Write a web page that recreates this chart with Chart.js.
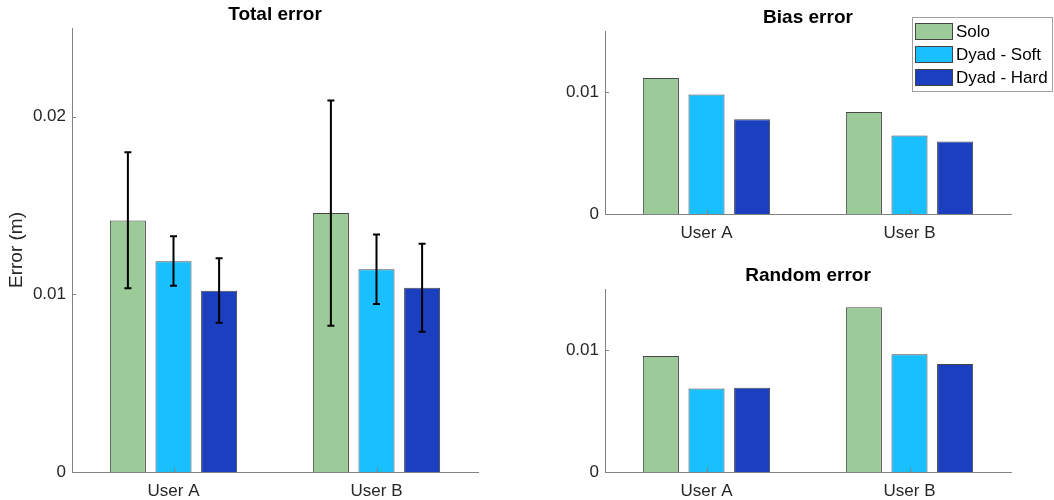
<!DOCTYPE html>
<html>
<head>
<meta charset="utf-8">
<script src="https://cdn.jsdelivr.net/npm/chart.js@4.4.1/dist/chart.umd.min.js"></script>
<style>
  html, body { margin: 0; padding: 0; background: #fff; }
  #wrap { position: relative; width: 1054px; height: 500px; }
  canvas { position: absolute; }
</style>
</head>
<body>
<div id="wrap">
  <canvas id="total-chart" width="520" height="500" style="left:0;top:0"></canvas>
  <canvas id="bias-chart" width="534" height="250" style="left:520px;top:0"></canvas>
  <canvas id="random-chart" width="534" height="250" style="left:520px;top:250px"></canvas>
</div>
<script>
// Categories and series
const users = ['User A', 'User B'];
const conditions = ['Solo', 'Dyad - Soft', 'Dyad - Hard'];
const colors = ['#9ccb99', '#1abfff', '#1a3fbf'];

// Total error (m), with error bar bounds
const totalSolo = [0.01416, 0.01459];
const totalSoft = [0.01187, 0.01142];
const totalHard = [0.01021, 0.01038];
const totalLow = [[0.01035, 0.00824], [0.01049, 0.00946], [0.00841, 0.00790]];
const totalHigh = [[0.01800, 0.02092], [0.01328, 0.01337], [0.01204, 0.01285]];

// Bias error (m)
const biasSolo = [0.01114, 0.00837];
const biasSoft = [0.00979, 0.00643];
const biasHard = [0.00777, 0.00594];

// Random error (m)
const randomSolo = [0.00951, 0.01351];
const randomSoft = [0.00685, 0.00965];
const randomHard = [0.00690, 0.00885];

// Axis ticks and limits
const totalTicks = [0, 0.01, 0.02];
const sideTicks = [0, 0.01];
const totalMax = 0.025;
const sideMax = 0.015;

const axisColor = '#828282';
const textColor = '#262626';
Chart.defaults.font.family = '"Liberation Sans", Arial, sans-serif';

// small inward ticks like MATLAB
const inwardTicks = {
  id: 'inwardTicks',
  afterDatasetsDraw(chart) {
    const ctx = chart.ctx;
    const x = chart.scales.x, y = chart.scales.y;
    ctx.save();
    ctx.strokeStyle = axisColor;
    ctx.lineWidth = 1;
    ctx.beginPath();
    for (let i = 0; i < x.ticks.length; i++) {
      const px = Math.round(x.getPixelForTick(i)) + 0.5;
      ctx.moveTo(px, y.bottom);
      ctx.lineTo(px, y.bottom - 4);
    }
    y.ticks.forEach(t => {
      const py = Math.round(y.getPixelForValue(t.value)) + 0.5;
      ctx.moveTo(x.left, py);
      ctx.lineTo(x.left + 4, py);
    });
    ctx.stroke();
    ctx.restore();
  }
};

// error bars from low/high arrays
const errorBars = {
  id: 'errorBars',
  afterDatasetsDraw(chart, args, opts) {
    if (!opts || !opts.low) return;
    const ctx = chart.ctx;
    const y = chart.scales.y;
    ctx.save();
    ctx.strokeStyle = '#000';
    ctx.lineWidth = 2;
    chart.data.datasets.forEach((ds, i) => {
      chart.getDatasetMeta(i).data.forEach((bar, j) => {
        const yl = y.getPixelForValue(opts.low[i][j]);
        const yh = y.getPixelForValue(opts.high[i][j]);
        ctx.beginPath();
        ctx.moveTo(bar.x, yl);
        ctx.lineTo(bar.x, yh);
        ctx.moveTo(bar.x - 3.5, yl);
        ctx.lineTo(bar.x + 3.5, yl);
        ctx.moveTo(bar.x - 3.5, yh);
        ctx.lineTo(bar.x + 3.5, yh);
        ctx.stroke();
      });
    });
    ctx.restore();
  }
};

// legend box drawn in the top right corner
const legendBox = {
  id: 'legendBox',
  afterDraw(chart, args, opts) {
    if (!opts || !opts.show) return;
    const ctx = chart.ctx;
    ctx.save();
    ctx.fillStyle = '#fff';
    ctx.fillRect(392, 17, 140, 74);
    ctx.strokeStyle = '#a0a0a0';
    ctx.lineWidth = 1;
    ctx.strokeRect(392.5, 17.5, 140, 74);
    ctx.font = '17px "Liberation Sans", Arial, sans-serif';
    ctx.textBaseline = 'middle';
    chart.data.datasets.forEach((ds, i) => {
      const top = 23 + i * 23;
      ctx.fillStyle = ds.backgroundColor;
      ctx.fillRect(395, top, 38, 17);
      ctx.strokeStyle = '#444';
      ctx.strokeRect(395.5, top + 0.5, 37, 16);
      ctx.fillStyle = '#000';
      ctx.fillText(ds.label, 436, top + 9);
    });
    ctx.restore();
  }
};

function makeChart(id, title, series, ticks, yMax, cfg) {
  const datasets = conditions.map((c, i) => ({
    label: c,
    data: series[i],
    backgroundColor: colors[i],
    borderColor: 'rgba(25,25,25,0.8)',
    borderWidth: 1,
    categoryPercentage: 0.674,
    barPercentage: 0.79
  }));
  return new Chart(document.getElementById(id), {
    type: 'bar',
    data: { labels: users, datasets: datasets },
    plugins: [inwardTicks, errorBars, legendBox],
    options: {
      responsive: false,
      animation: false,
      layout: { padding: { left: 0, right: cfg.right, top: 0, bottom: 0 } },
      plugins: {
        legend: { display: false },
        tooltip: { enabled: false },
        title: {
          display: true,
          text: title,
          fullSize: false,
          color: '#000',
          font: { size: 19, weight: 'bold' },
          padding: cfg.titlePad
        },
        errorBars: cfg.errors || {},
        legendBox: { show: !!cfg.legend }
      },
      scales: {
        x: {
          offset: true,
          grid: { display: false, drawTicks: false },
          border: { color: axisColor },
          ticks: { color: textColor, font: { size: 17 }, padding: 9 },
          afterFit: s => { s.height = cfg.xh; }
        },
        y: {
          min: 0,
          max: yMax,
          grid: { display: false, drawTicks: false },
          border: { color: axisColor },
          ticks: { color: textColor, font: { size: 17 }, padding: 6, callback: v => String(v) },
          afterBuildTicks: s => { s.ticks = ticks.map(v => ({ value: v })); },
          afterFit: s => { s.width = cfg.yw; },
          title: {
            display: !!cfg.ylabel,
            text: cfg.ylabel || '',
            color: textColor,
            font: { size: 19 },
            padding: { top: 5, bottom: 0 }
          }
        }
      }
    }
  });
}

makeChart('total-chart', 'Total error', [totalSolo, totalSoft, totalHard], totalTicks, totalMax, {
  right: 42, yw: 72, xh: 28, titlePad: { top: 3, bottom: 2.2 },
  ylabel: 'Error (m)', errors: { low: totalLow, high: totalHigh }
});
makeChart('bias-chart', 'Bias error', [biasSolo, biasSoft, biasHard], sideTicks, sideMax, {
  right: 43, yw: 85, xh: 36, titlePad: { top: 6.4, bottom: 1.8 }, legend: true
});
makeChart('random-chart', 'Random error', [randomSolo, randomSoft, randomHard], sideTicks, sideMax, {
  right: 43, yw: 85, xh: 28, titlePad: { top: 14.4, bottom: 1.8 }
});
</script>
</body>
</html>
